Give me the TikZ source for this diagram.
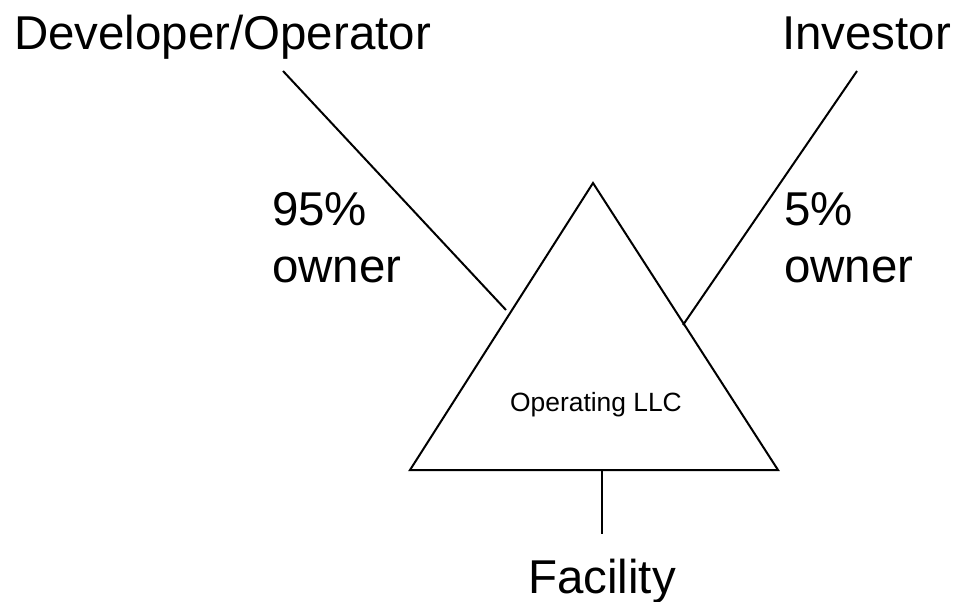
\documentclass[tikz,border=0pt]{standalone}
\usepackage{fontspec}
\setmainfont{Liberation Sans}
\usepackage{tikz}

\tikzset{
  party/.style={inner sep=0pt, font=\fontsize{35.6}{42.5}\selectfont},
  share/.style={inner sep=0pt, align=left, font=\fontsize{35.6}{42.5}\selectfont},
  llc/.style={inner sep=0pt, font=\fontsize{19.8}{24}\selectfont},
}

\begin{document}
\begin{tikzpicture}[x=0.75pt, y=-0.75pt, line width=1.5pt]
        \useasboundingbox (0,0) rectangle (959,602);

        % owners and facility
        \node[party, anchor=base west] (dev) at (13,50) {Developer/Operator};
        \node[party, anchor=base east] (inv) at (952,50) {Investor};
        \node[party, anchor=base] (fac) at (602,593) {Facility};

        % shares (base = last line)
        \node[share, anchor=base west] (devshare) at (271,282) {95\%\\owner};
        \node[share, anchor=base west] (invshare) at (783,282) {5\%\\owner};

        % the LLC
        \coordinate (top) at (593,183);
        \coordinate (left) at (410,470);
        \coordinate (right) at (778,470);
        \draw (top) -- (left) -- (right) -- cycle;
        \node[llc, anchor=base] (llc) at (596,411) {Operating LLC};

        % lines
        \coordinate (devend) at (283,71);
        \coordinate (devhit) at (506,310);
        \coordinate (invend) at (857,71);
        \coordinate (invhit) at (683,325);
        \coordinate (bottom) at (602,470);
        \coordinate (facend) at (602,534);
        \draw (devend) -- (devhit);
        \draw (invend) -- (invhit);
        \draw (bottom) -- (facend);
    \end{tikzpicture}
\end{document}
